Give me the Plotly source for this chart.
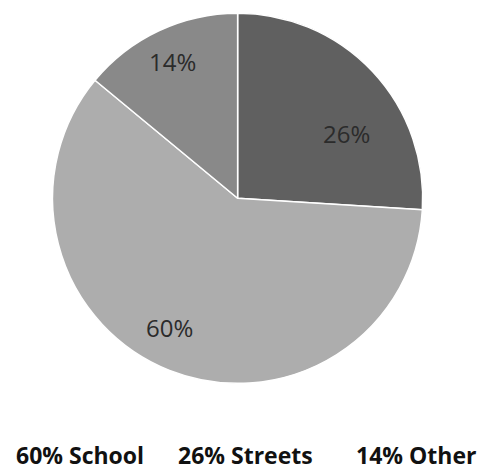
import plotly.graph_objects as go

labels = ["Streets", "School", "Other"]
values = [26, 60, 14]
colors = ["#606060", "#ADADAD", "#898989"]
legend_order = ["School", "Streets", "Other"]

# layout constants (pixel positions of the texts in a 482x472 canvas)
W, H = 482, 472
pct_label_px = {"Streets": (346, 133), "School": (169, 327), "Other": (172, 62)}
legend_x_px = [80, 245, 416]

fig = go.Figure()
fig.add_trace(go.Pie(
    labels=labels,
    values=values,
    sort=False,
    direction="clockwise",
    rotation=0,
    marker=dict(colors=colors, line=dict(color="white", width=1.5)),
    textinfo="none",
    domain=dict(x=[0.109, 0.877], y=[0.185, 0.975]),
    showlegend=False,
    hoverinfo="label+percent",
))

total = sum(values)
for name, v in zip(labels, values):
    px, py = pct_label_px[name]
    fig.add_annotation(
        x=px / W, y=1 - py / H, xref="paper", yref="paper",
        text=f"{round(100 * v / total)}%", showarrow=False,
        font=dict(family="Open Sans", size=24, color="#2b2b2b"),
        xanchor="center", yanchor="middle",
    )

for name, xp in zip(legend_order, legend_x_px):
    v = values[labels.index(name)]
    fig.add_annotation(
        x=xp / W, y=0, xref="paper", yref="paper",
        text=f"<b>{v}% {name}</b>", showarrow=False,
        font=dict(family="Open Sans", size=23, color="#111111"),
        xanchor="center", yanchor="bottom", borderpad=0,
    )

fig.update_layout(
    width=W, height=H,
    margin=dict(l=0, r=0, t=0, b=0),
    paper_bgcolor="white", plot_bgcolor="white",
)
fig.write_html(
    "out.html",
    config={"displayModeBar": False},
    post_script="document.body.style.margin='0';",
)
